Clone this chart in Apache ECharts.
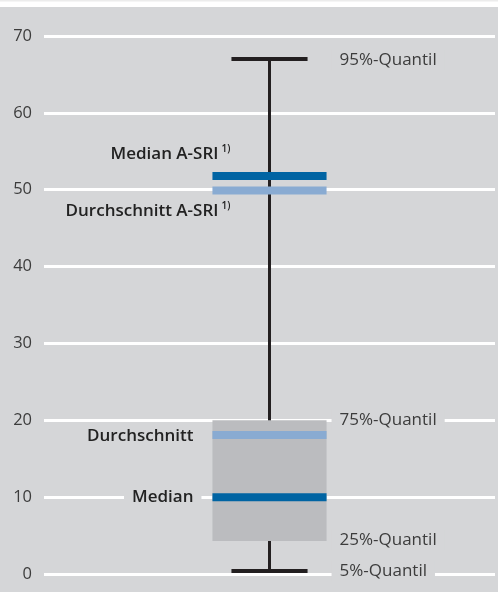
<!DOCTYPE html>
<html>
<head>
<meta charset="utf-8">
<script src="https://cdn.jsdelivr.net/npm/echarts@6/dist/echarts.min.js"></script>
<style>
html,body{margin:0;padding:0;background:#fff;}
#chart{width:498px;height:592px;}
</style>
</head>
<body>
<div id="chart"></div>
<script>
// ---- data ----
const categories = ['Gesamt'];
const quantile05 = [0.4];
const quantile25 = [4.3];
const quantile75 = [20.0];
const quantile95 = [67.0];
const medianValues = [10.0];
const meanValues = [18.1];
const medianASRI = [51.8];
const meanASRI = [49.9];
const yTickMin = 0, yTickMax = 70, yTickStep = 10;
const labelTexts = {
  q95: '95%-Quantil', q75: '75%-Quantil', q25: '25%-Quantil', q05: '5%-Quantil',
  median: 'Median', mean: 'Durchschnitt',
  medianASRI: 'Median A-SRI', meanASRI: 'Durchschnitt A-SRI', note: '1)'
};

const seriesData = categories.map((c, i) => [i, quantile05[i], quantile25[i], medianValues[i], meanValues[i], quantile75[i], quantile95[i], medianASRI[i], meanASRI[i]]);

const FONT = '"Open Sans", "Noto Sans", sans-serif';
const DARK = '#231f20';
const BG = '#d5d6d8';

function renderItem(params, api) {
  const idx = api.value(0);
  const y = v => api.coord([idx, v])[1];
  const xC = api.coord([idx, 0])[0];
  const band = api.size([1, 0])[0];
  const boxW = band * 0.253;
  const capW = boxW * 0.667;
  const left = xC - boxW / 2, right = xC + boxW / 2;
  const q05 = api.value(1), q25 = api.value(2), med = api.value(3), mean = api.value(4),
        q75 = api.value(5), q95 = api.value(6), medA = api.value(7), meanA = api.value(8);
  const lineH = 8;
  const hBar = (v, color) => ({
    type: 'rect', shape: { x: left, y: y(v) - lineH / 2, width: boxW, height: lineH },
    style: { fill: color }
  });
  const txt = (text, x, yy, align, bold, size, extra) => Object.assign({
    type: 'text', x: x, y: yy,
    style: Object.assign({
      text: text, align: align, verticalAlign: 'middle',
      fontFamily: FONT, fontSize: size || 17, fontWeight: bold ? 600 : 'normal',
      fill: bold ? '#222' : '#3c3c3c'
    }, extra || {})
  });
  const bgPad = { backgroundColor: BG, padding: [2, 8, 2, 8] };
  const rightX = right + 13 - 8;
  return {
    type: 'group',
    children: [
      { type: 'line', shape: { x1: xC, y1: y(q05), x2: xC, y2: y(q95) }, style: { stroke: DARK, lineWidth: 3 } },
      { type: 'rect', shape: { x: xC - capW / 2, y: y(q95) - 2, width: capW, height: 4 }, style: { fill: DARK } },
      { type: 'rect', shape: { x: xC - capW / 2, y: y(q05) - 2, width: capW, height: 4 }, style: { fill: DARK } },
      { type: 'rect', shape: { x: left, y: y(q75), width: boxW, height: y(q25) - y(q75) }, style: { fill: '#bbbcbf' } },
      hBar(mean, '#89abd2'),
      hBar(med, '#0064a3'),
      hBar(meanA, '#89abd2'),
      hBar(medA, '#0064a3'),
      txt(labelTexts.q95, rightX, y(q95) + 1, 'left', false, 17, bgPad),
      txt(labelTexts.q75, rightX, y(q75), 'left', false, 17, bgPad),
      txt(labelTexts.q25, rightX, y(q25) - 1, 'left', false, 17, bgPad),
      txt(labelTexts.q05, rightX, y(q05), 'left', false, 17, bgPad),
      txt(labelTexts.median, left - 19 + 8, y(med), 'right', true, 17, bgPad),
      txt(labelTexts.mean, left - 19, y(mean) + 1, 'right', true, 17),
      txt(labelTexts.medianASRI, left + 6, y(medA) - 22, 'right', true, 17),
      txt(labelTexts.note, left + 9, y(medA) - 27, 'left', true, 10),
      txt(labelTexts.meanASRI, left + 6, y(meanA) + 21, 'right', true, 17),
      txt(labelTexts.note, left + 9, y(meanA) + 16, 'left', true, 10)
    ]
  };
}

const chart = echarts.init(document.getElementById('chart'), null, { renderer: 'canvas' });
chart.setOption({
  backgroundColor: BG,
  animation: false,
  graphic: [
    { type: 'rect', left: 0, top: 0, shape: { width: 498, height: 7 }, style: { fill: '#ffffff' }, z: 100 },
    { type: 'rect', left: 0, top: 0, shape: { width: 498, height: 1.5 }, style: { fill: '#ececec' }, z: 101 }
  ],
  grid: { left: 44, right: 3, top: 36, bottom: 18, containLabel: false },
  xAxis: {
    type: 'category', data: categories,
    axisLine: { show: false }, axisTick: { show: false }, axisLabel: { show: false }, splitLine: { show: false }
  },
  yAxis: {
    type: 'value', min: yTickMin, max: yTickMax, interval: yTickStep,
    axisLine: { show: false }, axisTick: { show: false },
    axisLabel: { color: '#3c3c3c', fontSize: 16.5, fontFamily: FONT, margin: 12 },
    splitLine: { lineStyle: { color: '#ffffff', width: 3 } }
  },
  series: [{
    type: 'custom',
    renderItem: renderItem,
    data: seriesData,
    encode: { x: 0, y: [1, 2, 3, 4, 5, 6, 7, 8] },
    clip: false
  }]
});
</script>
</body>
</html>
